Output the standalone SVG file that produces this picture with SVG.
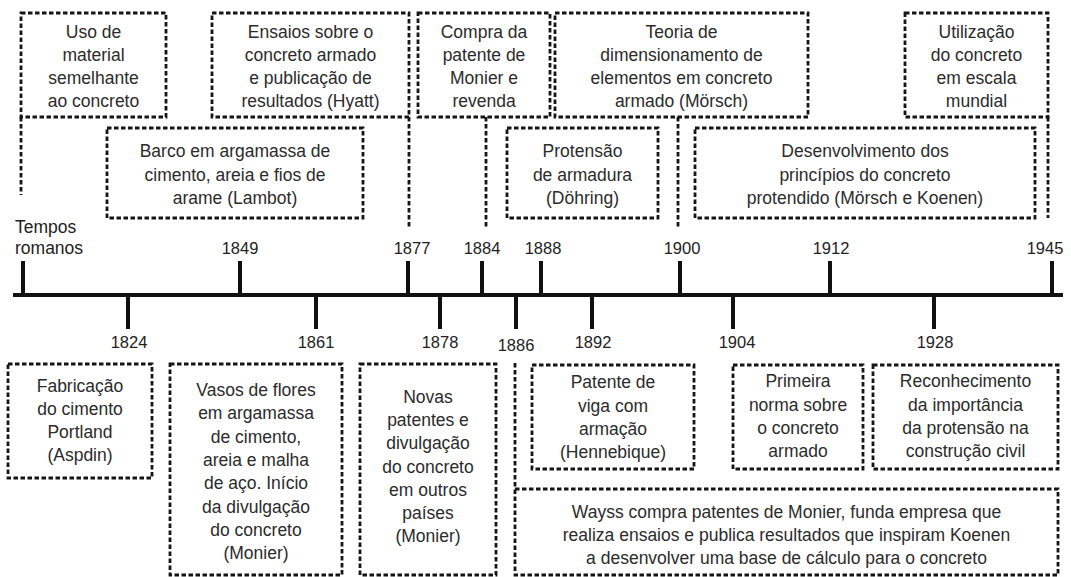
<svg xmlns="http://www.w3.org/2000/svg" width="1071" height="577" viewBox="0 0 1071 577">
<style>
.box{fill:none;stroke:#141414;stroke-width:2.8;stroke-dasharray:4.5 2.5}
.lead{fill:none;stroke:#141414;stroke-width:2.8;stroke-dasharray:4.5 2.5}
.t{font-family:"Liberation Sans",Arial,sans-serif;font-size:17.5px;fill:#2b2b2b;text-anchor:middle}
.y{font-family:"Liberation Sans",Arial,sans-serif;font-size:16.5px;fill:#222;text-anchor:middle}
.ys{font-family:"Liberation Sans",Arial,sans-serif;font-size:17.5px;fill:#222;text-anchor:start}
.axis{stroke:#111;stroke-width:4;fill:none}
</style>
<rect width="1071" height="577" fill="#fff"/>

<g id="timeline">
<line class="axis" x1="13" y1="295" x2="1063" y2="295"/>
<g class="axis">
<line x1="23" y1="261" x2="23" y2="295"/>
<line x1="240" y1="261" x2="240" y2="295"/>
<line x1="408" y1="261" x2="408" y2="295"/>
<line x1="482" y1="261" x2="482" y2="295"/>
<line x1="541" y1="261" x2="541" y2="295"/>
<line x1="680" y1="261" x2="680" y2="295"/>
<line x1="830" y1="261" x2="830" y2="295"/>
<line x1="1052" y1="261" x2="1052" y2="295"/>
<line x1="128" y1="295" x2="128" y2="329"/>
<line x1="316" y1="295" x2="316" y2="329"/>
<line x1="440" y1="295" x2="440" y2="329"/>
<line x1="516" y1="295" x2="516" y2="329"/>
<line x1="592" y1="295" x2="592" y2="329"/>
<line x1="733" y1="295" x2="733" y2="329"/>
<line x1="934" y1="295" x2="934" y2="329"/>
</g>
<text class="ys" x="15" y="233">Tempos</text>
<text class="ys" x="15" y="254">romanos</text>
<text class="y" x="240" y="254">1849</text>
<text class="y" x="412" y="254">1877</text>
<text class="y" x="482" y="254">1884</text>
<text class="y" x="543" y="254">1888</text>
<text class="y" x="682" y="254">1900</text>
<text class="y" x="831" y="254">1912</text>
<text class="y" x="1045" y="254">1945</text>
<text class="y" x="129" y="348">1824</text>
<text class="y" x="316" y="348">1861</text>
<text class="y" x="440" y="348">1878</text>
<text class="y" x="516" y="351">1886</text>
<text class="y" x="593" y="348">1892</text>
<text class="y" x="737" y="348">1904</text>
<text class="y" x="935" y="348">1928</text>
</g>

<g id="connectors">
<line class="lead" x1="21" y1="117" x2="21" y2="195"/>
<line class="lead" x1="409" y1="117" x2="409" y2="228"/>
<line class="lead" x1="486" y1="117" x2="486" y2="228"/>
<line class="lead" x1="678" y1="117" x2="678" y2="228"/>
<line class="lead" x1="1048" y1="117" x2="1048" y2="218"/>
<line class="lead" x1="515" y1="363" x2="515" y2="489"/>
</g>

<g id="uso">
<rect class="box" x="21" y="13" width="145" height="104"/>
<text class="t" x="93.5" y="37.5">Uso de</text>
<text class="t" x="93.5" y="60.5">material</text>
<text class="t" x="93.5" y="83.5">semelhante</text>
<text class="t" x="93.5" y="106.5">ao concreto</text>
</g>
<g id="ensaios">
<rect class="box" x="212" y="13" width="197" height="104"/>
<text class="t" x="310.5" y="37.5">Ensaios sobre o</text>
<text class="t" x="310.5" y="60.5">concreto armado</text>
<text class="t" x="310.5" y="83.5">e publicação de</text>
<text class="t" x="310.5" y="106.5">resultados (Hyatt)</text>
</g>
<g id="compra">
<rect class="box" x="418" y="13" width="132" height="104"/>
<text class="t" x="484" y="37.5">Compra da</text>
<text class="t" x="484" y="60.5">patente de</text>
<text class="t" x="484" y="83.5">Monier e</text>
<text class="t" x="484" y="106.5">revenda</text>
</g>
<g id="teoria">
<rect class="box" x="555" y="13" width="253" height="104"/>
<text class="t" x="681.5" y="37.5">Teoria de</text>
<text class="t" x="681.5" y="60.5">dimensionamento de</text>
<text class="t" x="681.5" y="83.5">elementos em concreto</text>
<text class="t" x="681.5" y="106.5">armado (Mörsch)</text>
</g>
<g id="utilizacao">
<rect class="box" x="905" y="13" width="143" height="104"/>
<text class="t" x="976.5" y="37.5">Utilização</text>
<text class="t" x="976.5" y="60.5">do concreto</text>
<text class="t" x="976.5" y="83.5">em escala</text>
<text class="t" x="976.5" y="106.5">mundial</text>
</g>

<g id="barco">
<rect class="box" x="107" y="128" width="256" height="90"/>
<text class="t" x="235" y="157">Barco em argamassa de</text>
<text class="t" x="235" y="180.5">cimento, areia e fios de</text>
<text class="t" x="235" y="204">arame (Lambot)</text>
</g>
<g id="protensao">
<rect class="box" x="507" y="128" width="151" height="90"/>
<text class="t" x="582.5" y="157">Protensão</text>
<text class="t" x="582.5" y="180.5">de armadura</text>
<text class="t" x="582.5" y="204">(Döhring)</text>
</g>
<g id="desenvolvimento">
<rect class="box" x="695" y="128" width="340" height="90"/>
<text class="t" x="865" y="157">Desenvolvimento dos</text>
<text class="t" x="865" y="180.5">princípios do concreto</text>
<text class="t" x="865" y="204">protendido (Mörsch e Koenen)</text>
</g>

<g id="fabricacao">
<rect class="box" x="8" y="364" width="144" height="114"/>
<text class="t" x="80" y="391.5">Fabricação</text>
<text class="t" x="80" y="414.5">do cimento</text>
<text class="t" x="80" y="437.5">Portland</text>
<text class="t" x="80" y="460.5">(Aspdin)</text>
</g>
<g id="vasos">
<rect class="box" x="170" y="364" width="172" height="211"/>
<text class="t" x="256" y="396">Vasos de flores</text>
<text class="t" x="256" y="419.3">em argamassa</text>
<text class="t" x="256" y="442.6">de cimento,</text>
<text class="t" x="256" y="465.9">areia e malha</text>
<text class="t" x="256" y="489.2">de aço. Início</text>
<text class="t" x="256" y="512.5">da divulgação</text>
<text class="t" x="256" y="535.8">do concreto</text>
<text class="t" x="256" y="559">(Monier)</text>
</g>
<g id="novas">
<rect class="box" x="360" y="364" width="136" height="211"/>
<text class="t" x="428" y="403">Novas</text>
<text class="t" x="428" y="426">patentes e</text>
<text class="t" x="428" y="449">divulgação</text>
<text class="t" x="428" y="472.5">do concreto</text>
<text class="t" x="428" y="495.5">em outros</text>
<text class="t" x="428" y="519">países</text>
<text class="t" x="428" y="542">(Monier)</text>
</g>
<g id="patente">
<rect class="box" x="532" y="365" width="162" height="104"/>
<text class="t" x="613" y="388">Patente de</text>
<text class="t" x="613" y="411.5">viga com</text>
<text class="t" x="613" y="435">armação</text>
<text class="t" x="613" y="458">(Hennebique)</text>
</g>
<g id="primeira">
<rect class="box" x="733" y="365" width="130" height="104"/>
<text class="t" x="798" y="387">Primeira</text>
<text class="t" x="798" y="410.5">norma sobre</text>
<text class="t" x="798" y="434">o concreto</text>
<text class="t" x="798" y="457">armado</text>
</g>
<g id="reconhecimento">
<rect class="box" x="873" y="365" width="185" height="104"/>
<text class="t" x="965.5" y="387">Reconhecimento</text>
<text class="t" x="965.5" y="410.5">da importância</text>
<text class="t" x="965.5" y="434">da protensão na</text>
<text class="t" x="965.5" y="457">construção civil</text>
</g>
<g id="wayss">
<rect class="box" x="515" y="489" width="543" height="86"/>
<text class="t" x="786.5" y="518">Wayss compra patentes de Monier, funda empresa que</text>
<text class="t" x="786.5" y="541">realiza ensaios e publica resultados que inspiram Koenen</text>
<text class="t" x="786.5" y="564">a desenvolver uma base de cálculo para o concreto</text>
</g>
</svg>
